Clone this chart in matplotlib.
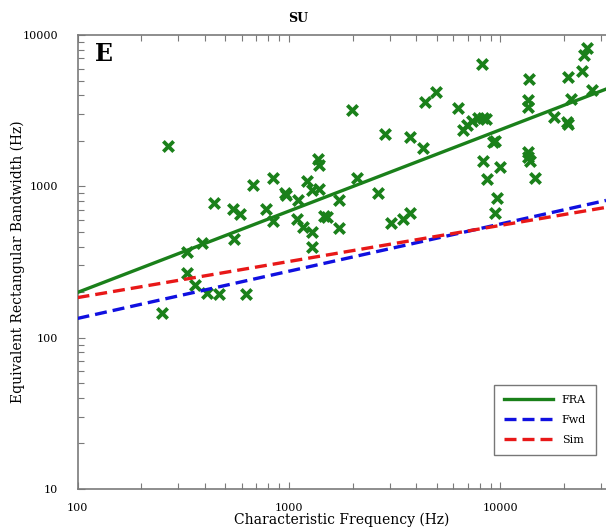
import matplotlib
matplotlib.use("Agg")
import matplotlib.pyplot as plt
import numpy as np

# Characteristic frequency (Hz) and ERB (Hz) of single units
cf_hz = [268, 250, 330, 330, 359, 387, 411, 468, 442, 546, 586, 550, 626, 678,
         837, 778, 837, 957, 968, 1107, 1213, 1378, 1387, 1280, 1390, 1087,
         1169, 1280, 1280, 1465, 1508,
         1730, 1730, 1977, 2104, 2642, 2845, 3027, 3450, 3733, 3733, 4285,
         4397, 4945, 6310,
         6670, 6920, 7310, 7860, 8300, 8540, 8150, 8300, 9950, 8600, 9590,
         9420, 9420, 9250, 13640, 13500, 13500, 13500, 13500, 13800, 14600,
         17950, 20560, 20800, 20800, 21500, 24200, 24800, 25600, 27000]
erb_hz = [1850, 145, 370, 266, 224, 420, 196, 193, 773, 708, 656, 449, 193, 1021,
          1129, 705, 593, 908, 877, 811, 1089, 1510, 1390, 946, 955, 605,
          541, 501, 399, 637, 624,
          811, 527, 3190, 1140, 899, 2218, 569, 605, 663, 2110, 1800,
          3622, 4180, 3310,
          2354, 2540, 2705, 2814, 2814, 2786, 6426, 1469, 1337, 1117, 841,
          670, 1990, 1950, 5115, 3707, 3357, 1694, 1570, 1469, 1140,
          2860, 2673, 2570, 5250, 3775, 5810, 7380, 8160, 4335]

# Fitted power-law lines, given by their end points
fit_x = [100, 31600]
fra_fit = [199, 4390]
fwd_fit = [134, 807]
sim_fit = [184, 726]

series_names = ["FRA", "Fwd", "Sim"]
x_ticks = [100, 1000, 10000]
y_ticks = [10, 100, 1000, 10000]

plt.rcParams["font.family"] = ["DejaVu Serif"]

fig = plt.figure(figsize=(6.06, 5.32), dpi=100)
ax = fig.add_axes([77.5 / 606, 43 / 532, 1 - 77.5 / 606, 454 / 532])

green = "#1a801a"
ax.scatter(cf_hz, erb_hz, marker="x", s=55, linewidths=2.7, color=green, zorder=3)
ax.plot(fit_x, fra_fit, color=green, lw=2.4, label=series_names[0], zorder=4)
ax.plot(fit_x, fwd_fit, color="#1010e0", lw=2.4, ls=(0, (3.6, 1.8)),
        label=series_names[1], zorder=4)
ax.plot(fit_x, sim_fit, color="#e81818", lw=2.4, ls=(0, (3.6, 1.8)),
        label=series_names[2], zorder=4)

ax.set_xscale("log")
ax.set_yscale("log")
ax.set_xlim(100, 31600)
ax.set_ylim(10, 10000)
ax.set_xticks(x_ticks)
ax.set_xticklabels([str(v) for v in x_ticks])
ax.set_yticks(y_ticks)
ax.set_yticklabels([str(v) for v in y_ticks])

spine_c = "#7a7a7a"
for side in ["left", "bottom", "top"]:
    ax.spines[side].set_color(spine_c)
    ax.spines[side].set_linewidth(1.2)
ax.spines["right"].set_visible(False)

ax.tick_params(which="both", direction="in", top=True, right=False,
               color=spine_c, width=0.8, labelsize=8)
ax.tick_params(axis="y", which="both", pad=14)
ax.tick_params(axis="x", which="both", pad=10)
ax.tick_params(which="major", length=5)
ax.tick_params(which="minor", length=4)
ax.yaxis.set_minor_formatter(matplotlib.ticker.NullFormatter())
ax.xaxis.set_minor_formatter(matplotlib.ticker.NullFormatter())

ax.set_xlabel("Characteristic Frequency (Hz)", fontsize=10, labelpad=0)
ax.set_ylabel("Equivalent Rectangular Bandwidth (Hz)", fontsize=10, labelpad=-2)

fig.text(298 / 606, 1 - 18 / 532, "SU", ha="center", va="center",
         fontsize=9, fontweight="bold")
ax.text(0.033, 0.985, "E", transform=ax.transAxes, ha="left", va="top",
        fontsize=17, fontweight="bold")

leg = ax.legend(loc="lower right", bbox_to_anchor=((596 - 77.5) / 528.5, (489 - 455) / 454),
                borderaxespad=0, fontsize=8, frameon=True, fancybox=False,
                handlelength=4.4, borderpad=0.9, labelspacing=0.9, handletextpad=0.8)
leg.get_frame().set_edgecolor("#555555")
leg.get_frame().set_linewidth(1.0)

fig.savefig("out.png", dpi=100)
